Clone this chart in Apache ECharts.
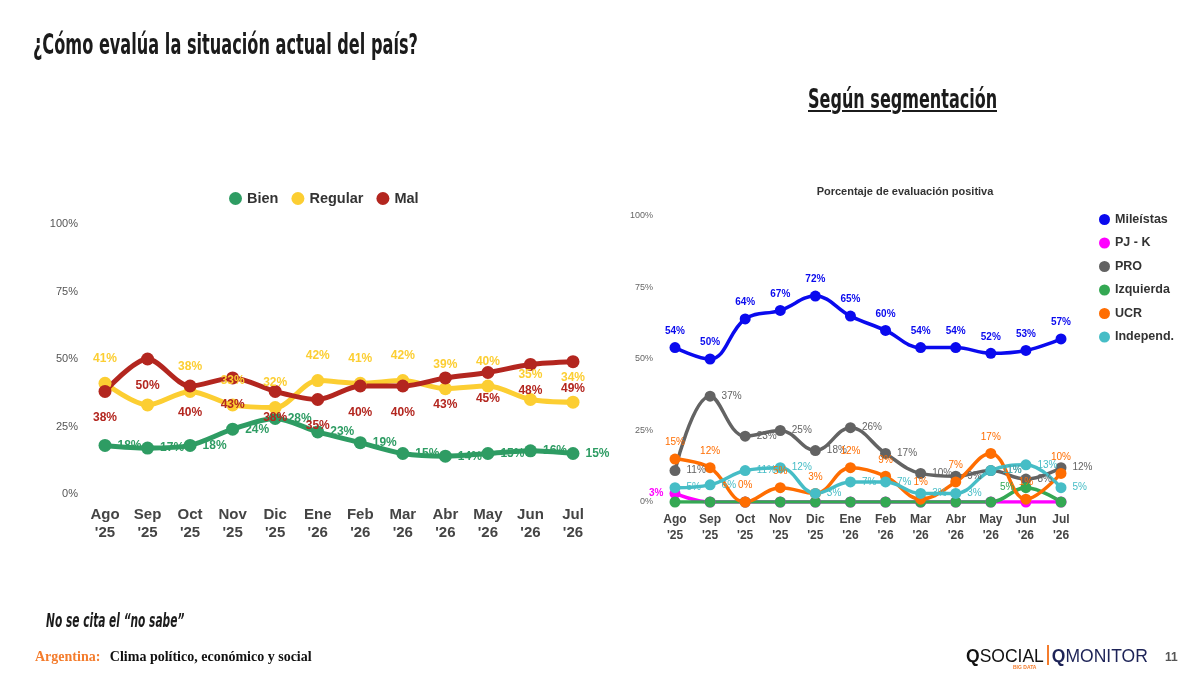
<!DOCTYPE html>
<html>
<head>
<meta charset="utf-8">
<script src="https://cdn.jsdelivr.net/npm/echarts@6/dist/echarts.min.js"></script>
<style>
  html, body { margin: 0; padding: 0; background: #fff; }
  #wrap { position: relative; width: 1200px; height: 680px; overflow: hidden; }
  #chart { position: absolute; left: 0; top: 0; width: 1200px; height: 680px; }
  .cond { font-family: "DejaVu Sans", sans-serif; transform-origin: left top; white-space: nowrap; }
  #title { position: absolute; left: 33px; top: 28px; font-size: 28px; font-weight: bold; color: #1b1b1b; transform: scaleX(0.577); }
  #seg { position: absolute; left: 808px; top: 84px; font-size: 26px; font-weight: bold; color: #1b1b1b; text-decoration: underline; transform: scaleX(0.617); }
  #nosabe { position: absolute; left: 46px; top: 609px; font-size: 19px; font-style: italic; font-weight: bold; color: #1b1b1b; transform: scaleX(0.56); }
  #foot { position: absolute; left: 35px; top: 649px; font-family: "Liberation Serif", "DejaVu Serif", serif; font-weight: bold; font-size: 14px; color: #111; white-space: nowrap; }
  #foot span { color: #f47c2c; margin-right: 6px; }
  #logos { position: absolute; left: 966px; top: 645px; font-family: "Liberation Sans", sans-serif; font-size: 17.5px; color: #111; white-space: nowrap; }
  #logos b { font-weight: bold; }
  #logos .bar { display: inline-block; width: 2px; height: 20px; background: #f47c2c; vertical-align: -3px; margin: 0 3px; }
  #logos .mon { color: #1d2357; }
  #bigdata { position: absolute; left: 1013px; top: 664px; font-family: "Liberation Sans", sans-serif; font-size: 5px; font-weight: bold; color: #f47c2c; }
  #page { position: absolute; left: 1165px; top: 650px; font-family: "Liberation Sans", sans-serif; font-weight: bold; font-size: 12px; color: #555; }
</style>
</head>
<body>
<div id="wrap">
  <div id="chart"></div>
  <div id="title" class="cond">¿Cómo evalúa la situación actual del país?</div>
  <div id="seg" class="cond">Según segmentación</div>
  <div id="nosabe" class="cond">No se cita el “no sabe”</div>
  <div id="foot"><span>Argentina:</span> Clima político, económico y social</div>
  <div id="logos"><b>Q</b>SOCIAL<span class="bar"></span><span class="mon"><b>Q</b>MONITOR</span></div>
  <div id="bigdata">BIG DATA</div>
  <div id="page">11</div>
</div>
<script>
var meses = ["Ago\n'25", "Sep\n'25", "Oct\n'25", "Nov\n'25", "Dic\n'25", "Ene\n'26", "Feb\n'26", "Mar\n'26", "Abr\n'26", "May\n'26", "Jun\n'26", "Jul\n'26"];

// situación del país
var bien = [18, 17, 18, 24, 28, 23, 19, 15, 14, 15, 16, 15];
var regular = [41, 33, 38, 33, 32, 42, 41, 42, 39, 40, 35, 34];
var mal = [38, 50, 40, 43, 38, 35, 40, 40, 43, 45, 48, 49];
// etiqueta tapada en el original (Regular, Sep)
var regularSinEtiqueta = [1];

// evaluación positiva por segmento
var mileistas = [54, 50, 64, 67, 72, 65, 60, 54, 54, 52, 53, 57];
var pjk = [3, 0, 0, 0, 0, 0, 0, 0, 0, 0, 0, 0];
var pro = [11, 37, 23, 25, 18, 26, 17, 10, 9, 11, 8, 12];
var izquierda = [0, 0, 0, 0, 0, 0, 0, 0, 0, 0, 5, 0];
var ucr = [15, 12, 0, 5, 3, 12, 9, 1, 7, 17, 1, 10];
var independ = [5, 6, 11, 12, 3, 7, 7, 3, 3, 11, 13, 5];

var font = '"Liberation Sans", Arial, sans-serif';

function pct(p) { return p.value + '%'; }
function pctNoZero(p) { return p.value === 0 ? '' : p.value + '%'; }

function leftLine(name, data, color, pos, dist) {
    return {
        name: name, type: 'line', xAxisIndex: 0, yAxisIndex: 0,
        data: data, smooth: 0.3,
        symbol: 'circle', symbolSize: 13,
        lineStyle: { width: 5, color: color },
        itemStyle: { color: color },
        label: { show: true, position: pos, distance: dist, formatter: pct,
            color: color, fontWeight: 'bold', fontSize: 12, fontFamily: font }
    };
}

function rightLine(name, data, color, pos, fmt, bold) {
    return {
        name: name, type: 'line', xAxisIndex: 1, yAxisIndex: 1,
        data: data, smooth: 0.4,
        symbol: 'circle', symbolSize: 11,
        lineStyle: { width: 3.5, color: color },
        itemStyle: { color: color },
        label: { show: true, position: pos, distance: 6, formatter: fmt,
            color: color, fontWeight: bold ? 'bold' : 'normal', fontSize: 10, fontFamily: font }
    };
}

var regularData = regular.map(function (v, i) {
    if (regularSinEtiqueta.indexOf(i) >= 0) {
        return { value: v, label: { show: false } };
    }
    return v;
});

var myChart = echarts.init(document.getElementById('chart'));

var options = {
    animation: false,
    textStyle: { fontFamily: font },
    title: {
        text: 'Porcentaje de evaluación positiva',
        left: 900, top: 181, textAlign: 'center',
        textStyle: { fontSize: 11, fontWeight: 'bold', color: '#333', fontFamily: font }
    },
    legend: [{
        data: ['Bien', 'Regular', 'Mal'],
        left: 224, top: 186,
        icon: 'circle', itemWidth: 13, itemHeight: 13, itemGap: 13,
        textStyle: { fontSize: 14.5, fontWeight: 'bold', color: '#333', fontFamily: font }
    }, {
        data: ['Mileístas', 'PJ - K', 'PRO', 'Izquierda', 'UCR', 'Independ.'],
        orient: 'vertical', left: 1094, top: 208,
        icon: 'circle', itemWidth: 11, itemHeight: 11, itemGap: 10.5,
        textStyle: { fontSize: 12.5, fontWeight: 'bold', color: '#333', fontFamily: font }
    }],
    grid: [
        { left: 105, top: 224, width: 468, height: 270 },
        { left: 675, top: 216, width: 386, height: 286 }
    ],
    xAxis: [{
        gridIndex: 0, type: 'category', boundaryGap: false, data: meses,
        axisLine: { show: false }, axisTick: { show: false },
        axisLabel: { color: '#444', fontWeight: 'bold', fontSize: 15, lineHeight: 18, margin: 12, interval: 0 }
    }, {
        gridIndex: 1, type: 'category', boundaryGap: false, data: meses,
        axisLine: { show: false }, axisTick: { show: false },
        axisLabel: { color: '#444', fontWeight: 'bold', fontSize: 12, lineHeight: 16, margin: 10, interval: 0 }
    }],
    yAxis: [{
        gridIndex: 0, type: 'value', min: 0, max: 100, interval: 25,
        splitLine: { show: false }, axisLine: { show: false }, axisTick: { show: false },
        axisLabel: { formatter: '{value}%', color: '#555', fontSize: 11, margin: 27 }
    }, {
        gridIndex: 1, type: 'value', min: 0, max: 100, interval: 25,
        splitLine: { show: false }, axisLine: { show: false }, axisTick: { show: false },
        axisLabel: { formatter: '{value}%', color: '#666', fontSize: 9, margin: 22 }
    }],
    series: [
        leftLine('Bien', bien, '#2e9c63', 'right', 6),
        leftLine('Regular', regularData, '#fcce32', 'top', 12),
        leftLine('Mal', mal, '#b3261f', 'bottom', 14),
        rightLine('Mileístas', mileistas, '#0a0aee', 'top', pct, true),
        rightLine('PJ - K', pjk, '#ff00ff', 'left', pctNoZero, true),
        rightLine('PRO', pro, '#636363', 'right', pct, false),
        rightLine('Izquierda', izquierda, '#34a853', 'left', pctNoZero, false),
        rightLine('UCR', ucr, '#ff6d01', 'top', pct, false),
        rightLine('Independ.', independ, '#46bdc6', 'right', pct, false)
    ]
};

myChart.setOption(options);
</script>
</body>
</html>
